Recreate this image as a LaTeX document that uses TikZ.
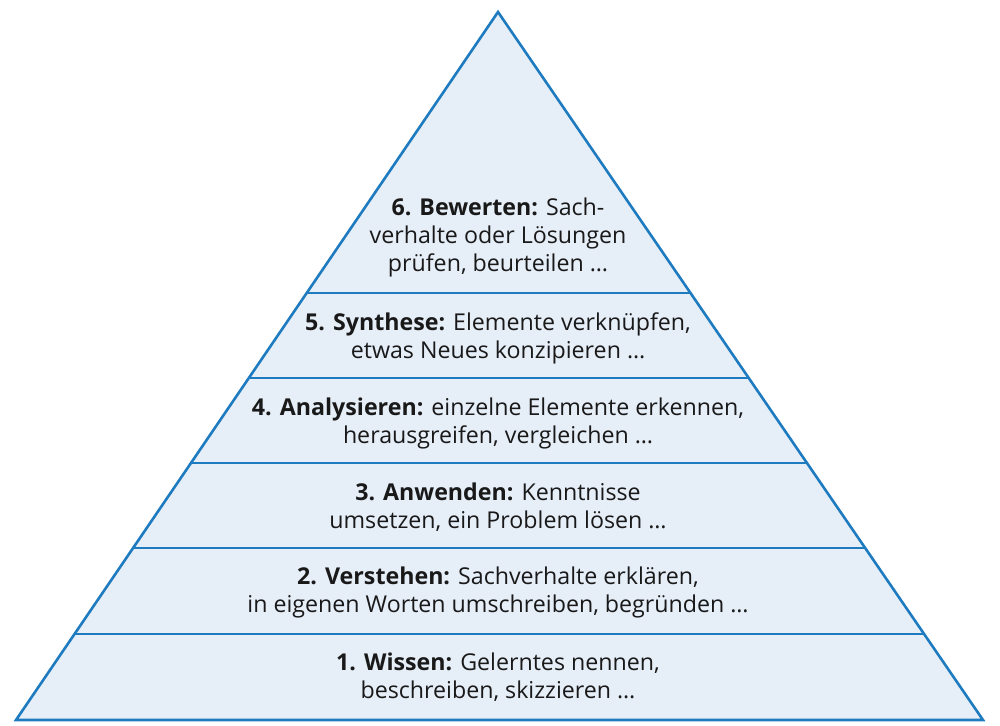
\documentclass[tikz,border=0pt]{standalone}
\usepackage{fontspec}
\setmainfont{Open Sans}
\usetikzlibrary{calc}
\definecolor{pyrblue}{HTML}{1F7BBF}
\definecolor{pyrfill}{HTML}{E6EEF8}
\begin{document}
\begin{tikzpicture}[x=0.5pt,y=-0.5pt,
    level/.style={align=center,font=\fontsize{11.6}{14}\selectfont,text=black!90}]
        \useasboundingbox (0,0) rectangle (1000,726);
        \coordinate (apex) at (498,12);
        \coordinate (bl) at (16,720);
        \coordinate (br) at (983,720);
        \filldraw[pyrblue, fill=pyrfill, line width=1.3pt, line join=miter] (apex) -- (br) -- (bl) -- cycle;
        % layer borders
        \foreach \y in {293,378,463,548,634} {
            \pgfmathsetmacro{\t}{(\y-12)/708}
            \draw[pyrblue, line width=1.1pt] ($(apex)!\t!(bl)$) -- ($(apex)!\t!(br)$);
        }
        \node[level] (l6) at (498,237) {\textbf{6. Bewerten:} Sach-\\verhalte oder Lösungen\\prüfen, beurteilen …};
        \node[level] (l5) at (498,338) {\textbf{5. Synthese:} Elemente verknüpfen,\\etwas Neues konzipieren …};
        \node[level] (l4) at (498,423) {\textbf{4. Analysieren:} einzelne Elemente erkennen,\\herausgreifen, vergleichen …};
        \node[level] (l3) at (498,507) {\textbf{3. Anwenden:} Kenntnisse\\umsetzen, ein Problem lösen …};
        \node[level] (l2) at (498,592) {\textbf{2. Verstehen:} Sachverhalte erklären,\\in eigenen Worten umschreiben, begründen …};
        \node[level] (l1) at (498,677) {\textbf{1. Wissen:} Gelerntes nennen,\\beschreiben, skizzieren …};
    \end{tikzpicture}
\end{document}
